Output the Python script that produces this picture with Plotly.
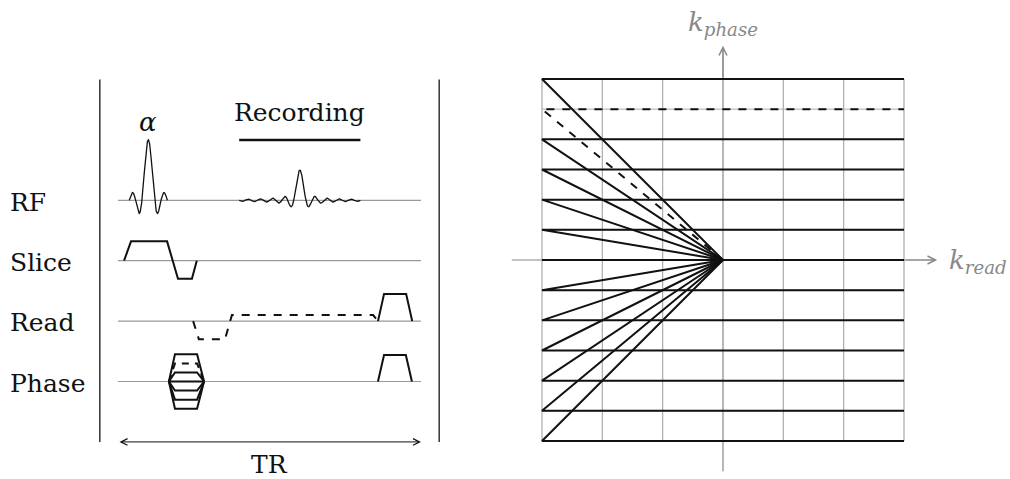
import numpy as np
import plotly.graph_objects as go

# ---------------- Pulse sequence diagram (time in ms, amplitude in channel-spacing units) ----
channels = ["RF", "Slice", "Read", "Phase"]
channel_level = [3, 2, 1, 0]
TR = 10.0

rf_center, rf_halfwidth, rf_lobes, rf_peak = 1.0, 0.63, 3, 1.0
echo_center, echo_halfwidth, echo_lobes, echo_peak = 6.0, 2.0, 10, 0.5
record_start, record_end, record_level = 4.0, 8.0, 4.0

slice_t = [0.2, 0.43, 1.62, 1.98, 2.44, 2.6]
slice_g = [0, 0.32, 0.32, -0.30, -0.30, 0]

read_pre_t = [2.48, 2.67, 3.53, 3.76, 8.42, 8.58]
read_pre_g = [0, -0.30, -0.30, 0.10, 0.10, 0]
read_spoil_t = [8.58, 8.78, 9.51, 9.71]
read_spoil_g = [0, 0.45, 0.45, 0]

phase_t = [1.68, 1.88, 2.61, 2.84]
phase_steps = [0.45, 0.30, 0.15, 0.0, -0.15, -0.30, -0.45]
phase_dashed = [0.30]
phase_spoil_t = [8.58, 8.78, 9.5, 9.7]
phase_spoil_g = [0, 0.44, 0.44, 0]

panel_t = [-0.6, 10.6]
panel_y = [-1.0, 5.0]

# ---------------- k-space diagram ----------------
kx_min, kx_max = -3, 3
ky_rows = [6, 5, 4, 3, 2, 1, 0, -1, -2, -3, -4, -5, -6]
ky_dashed = [5]
grid_kx = [-3, -2, -1, 1, 2, 3]
axis_k_read = [-3.5, 3.5]
axis_k_phase = [-7.0, 7.0]

SERIF = "DejaVu Serif"
BLACK = "#111111"
GRAY = "#9a9a9a"

fig = go.Figure()

def add(x, y, xa="x", ya="y", color=BLACK, width=2, dash="solid"):
    fig.add_trace(go.Scatter(x=x, y=y, mode="lines", xaxis=xa, yaxis=ya,
                             line=dict(color=color, width=width, dash=dash),
                             hoverinfo="skip", showlegend=False))

# baselines
for lvl in channel_level:
    add([0, TR], [lvl, lvl], color=GRAY, width=1.2)

# panel borders
for t in panel_t:
    add([t, t], panel_y, color="#333333", width=1.5)

# RF pulse
u = np.linspace(-rf_lobes, rf_lobes, 300)
add(rf_center + u * rf_halfwidth / rf_lobes, channel_level[0] + rf_peak * np.sinc(u), width=1.3)
# echo
u = np.linspace(-echo_lobes, echo_lobes, 600)
add(echo_center + u * echo_halfwidth / echo_lobes, channel_level[0] + echo_peak * np.sinc(u), width=1.3)
# recording bar
add([record_start, record_end], [record_level, record_level], width=2.5)

# slice
add(slice_t, [channel_level[1] + g for g in slice_g])
# read
add(read_pre_t, [channel_level[2] + g for g in read_pre_g], dash="8px,8px")
add(read_spoil_t, [channel_level[2] + g for g in read_spoil_g])
# phase
for s in phase_steps:
    g = [0, s, s, 0]
    add(phase_t, [channel_level[3] + v for v in g], dash="7px,6px" if s in phase_dashed else "solid")
add(phase_spoil_t, [channel_level[3] + g for g in phase_spoil_g])

# k-space grid
for kx in grid_kx:
    add([kx, kx], [ky_rows[-1], ky_rows[0]], "x2", "y2", color="#aaaaaa", width=1.2)
for ky in ky_rows:
    add([kx_min, kx_max], [ky, ky], "x2", "y2", color="#aaaaaa", width=1)
# k axes
add(axis_k_read, [0, 0], "x2", "y2", color="#888888", width=1.2)
add([0, 0], axis_k_phase, "x2", "y2", color="#888888", width=1.2)

# trajectories
for ky in ky_rows:
    d = "8px,8px" if ky in ky_dashed else "solid"
    add([0, kx_min, kx_max], [0, ky, ky], "x2", "y2", width=2, dash=d)

ann = []
for name, lvl in zip(channels, channel_level):
    ann.append(dict(x=-3.63, y=lvl - 0.03, xref="x", yref="y", text=name, showarrow=False,
                    xanchor="left", yanchor="middle", font=dict(family=SERIF, size=25, color=BLACK)))
ann.append(dict(x=rf_center, y=4.3, xref="x", yref="y", text="<i>α</i>", showarrow=False,
                font=dict(family=SERIF, size=26, color=BLACK)))
ann.append(dict(x=echo_center, y=4.45, xref="x", yref="y", text="Recording", showarrow=False,
                font=dict(family=SERIF, size=25, color=BLACK)))
ann.append(dict(x=TR / 2, y=-1.38, xref="x", yref="y", text="TR", showarrow=False,
                font=dict(family=SERIF, size=25, color=BLACK)))
# TR double arrow
arrow_font = dict(family=SERIF, size=10, color=BLACK)
ann.append(dict(x=TR, y=-1.0, ax=0, ay=-1.0, xref="x", yref="y", axref="x", ayref="y",
                text="", showarrow=True, arrowhead=5, startarrowhead=5, arrowside="end+start",
                arrowwidth=1, arrowsize=1.3, startarrowsize=1.3, arrowcolor=BLACK, font=arrow_font))
# k-space axis arrows
ann.append(dict(x=axis_k_read[1] + 0.05, y=0, ax=axis_k_read[1] - 0.5, ay=0, xref="x2", yref="y2",
                axref="x2", ayref="y2", text="", showarrow=True, arrowhead=5, arrowwidth=1.2,
                arrowsize=1.3, arrowcolor="#888888", font=arrow_font))
ann.append(dict(x=0, y=axis_k_phase[1] + 0.1, ax=0, ay=axis_k_phase[1] - 1, xref="x2", yref="y2",
                axref="x2", ayref="y2", text="", showarrow=True, arrowhead=5, arrowwidth=1.2,
                arrowsize=1.3, arrowcolor="#888888", font=arrow_font))
ann.append(dict(x=0, y=7.85, xref="x2", yref="y2", text="<i>k</i><sub><i>phase</i></sub>",
                showarrow=False, font=dict(family=SERIF, size=26, color="#888888")))
ann.append(dict(x=3.72, y=-0.05, xref="x2", yref="y2", text="<i>k</i><sub><i>read</i></sub>",
                showarrow=False, xanchor="left", font=dict(family=SERIF, size=26, color="#888888")))

ax_common = dict(visible=False, fixedrange=True)
fig.update_layout(
    width=1010, height=479, margin=dict(l=0, r=0, t=0, b=0),
    paper_bgcolor="white", plot_bgcolor="white", showlegend=False,
    xaxis=dict(domain=[0, 0.5], range=[-3.894, 12.772], anchor="y", **ax_common),
    yaxis=dict(domain=[0, 1], range=[-1.614, 6.316], anchor="x", **ax_common),
    xaxis2=dict(domain=[0.5, 1], range=[-3.613, 4.757], anchor="y2", **ax_common),
    yaxis2=dict(domain=[0, 1], range=[-7.259, 8.618], anchor="x2", **ax_common),
    annotations=ann,
)
fig.write_html("out.html", config={"displayModeBar": False},
               post_script="document.body.style.margin='0';document.body.style.overflow='hidden';")
